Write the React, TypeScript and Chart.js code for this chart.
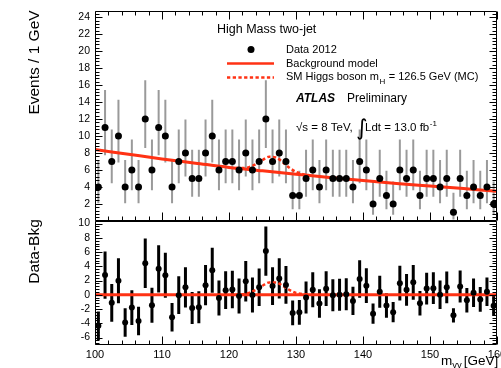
import React, { useEffect, useRef } from "react";
import { Chart, registerables } from "chart.js";

Chart.register(...registerables);

// Diphoton invariant mass bins (1 GeV wide), bin centres in GeV
const binCentres = [
  100.5, 101.5, 102.5, 103.5, 104.5, 105.5, 106.5, 107.5, 108.5, 109.5,
  110.5, 111.5, 112.5, 113.5, 114.5, 115.5, 116.5, 117.5, 118.5, 119.5,
  120.5, 121.5, 122.5, 123.5, 124.5, 125.5, 126.5, 127.5, 128.5, 129.5,
  130.5, 131.5, 132.5, 133.5, 134.5, 135.5, 136.5, 137.5, 138.5, 139.5,
  140.5, 141.5, 142.5, 143.5, 144.5, 145.5, 146.5, 147.5, 148.5, 149.5,
  150.5, 151.5, 152.5, 153.5, 154.5, 155.5, 156.5, 157.5, 158.5, 159.5,
];

// Observed events per bin, Data 2012
const eventCounts = [
  4, 11, 7, 10, 4, 6, 4, 12, 6, 11,
  10, 4, 7, 8, 5, 5, 8, 10, 6, 7,
  7, 6, 8, 6, 7, 12, 7, 8, 7, 3,
  3, 5, 6, 4, 6, 5, 5, 5, 4, 7,
  6, 2, 5, 3, 2, 6, 5, 6, 3, 5,
  5, 4, 5, 1, 5, 3, 4, 3, 4, 2,
];

// Background model, sampled every 5 GeV
const bkgMass = [100, 105, 110, 115, 120, 125, 130, 135, 140, 145, 150, 155, 160];
const bkgEvents = [8.4, 7.85, 7.3, 6.8, 6.3, 5.9, 5.5, 5.1, 4.75, 4.4, 4.1, 3.8, 3.5];

// SM Higgs boson expectation, mH = 126.5 GeV
const higgsMass = [121, 122, 123, 124, 125, 126, 127, 128, 129, 130, 131, 132];
const higgsExcess = [0.02, 0.08, 0.27, 0.69, 1.27, 1.73, 1.73, 1.27, 0.69, 0.27, 0.08, 0.02];
const higgsPlusBkg = [6.24, 6.22, 6.33, 6.67, 7.17, 7.55, 7.47, 6.93, 6.27, 5.77, 5.51, 5.38];

// 68% CL Poisson interval bounds, indexed by observed count
const poissonLow = [0, 0.173, 0.708, 1.367, 2.086, 2.84, 3.62, 4.419, 5.232, 6.057, 6.891, 7.734, 8.585];
const poissonHigh = [1.841, 3.3, 4.638, 5.918, 7.163, 8.382, 9.584, 10.77, 11.95, 13.11, 14.27, 15.42, 16.56];

// Axis tick labels
const massTicks = [100, 110, 120, 130, 140, 150, 160];
const eventTicks = [2, 4, 6, 8, 10, 12, 14, 16, 18, 20, 22, 24];
const residualTicks = [-6, -4, -2, 0, 2, 4, 6, 8, 10];

const RED = "#ff3214";
const SANS = '"Liberation Sans", Arial, Helvetica, sans-serif';
const font = (size: number, style = "") => `${style} ${size}px ${SANS}`.trim();

function bkgAt(m: number): number {
  for (let i = 0; i < bkgMass.length - 1; i++) {
    if (m >= bkgMass[i] && m <= bkgMass[i + 1]) {
      const t = (m - bkgMass[i]) / (bkgMass[i + 1] - bkgMass[i]);
      return bkgEvents[i] + t * (bkgEvents[i + 1] - bkgEvents[i]);
    }
  }
  return bkgEvents[bkgEvents.length - 1];
}

const residuals = eventCounts.map((n, i) => n - bkgAt(binCentres[i]));

// Frame and ROOT-style inward ticks on both panels
const framePlugin = {
  id: "frameTicks",
  afterDatasetsDraw(chart: any) {
    const { ctx, chartArea } = chart;
    const xs = chart.scales.x;
    const panels = [chart.scales.yTop, chart.scales.yBot];
    const L = Math.round(chartArea.left) + 0.5;
    const R = Math.round(chartArea.right) - 0.5;
    ctx.save();
    ctx.strokeStyle = "#000";
    ctx.lineWidth = 1;
    panels.forEach((ys: any, pi: number) => {
      const T = Math.round(ys.top) + 0.5;
      const B = Math.round(ys.bottom) - 0.5;
      ctx.beginPath();
      ctx.rect(L, T, R - L, B - T);
      // y ticks every 0.4, major every 2
      const kMin = Math.ceil(ys.min / 0.4 - 1e-6);
      const kMax = Math.floor(ys.max / 0.4 + 1e-6);
      for (let k = kMin; k <= kMax; k++) {
        const v = k * 0.4;
        const py = Math.round(ys.getPixelForValue(v)) + 0.5;
        const len = k % 5 === 0 ? 7 : 4;
        ctx.moveTo(L, py);
        ctx.lineTo(L + len, py);
        ctx.moveTo(R, py);
        ctx.lineTo(R - len, py);
      }
      // x ticks every 2 GeV, major every 10
      for (let m = 100; m <= 160; m += 2) {
        const px = Math.round(xs.getPixelForValue(m)) + 0.5;
        const len = m % 10 === 0 ? 8 : 4;
        ctx.moveTo(px, B);
        ctx.lineTo(px, B - len);
        if (pi === 0) {
          ctx.moveTo(px, T);
          ctx.lineTo(px, T + len);
        }
      }
      ctx.stroke();
    });
    ctx.restore();
  },
};

// Titles, legend and annotations
const textPlugin = {
  id: "annotations",
  afterDraw(chart: any) {
    const { ctx } = chart;
    ctx.save();
    ctx.fillStyle = "#000";
    ctx.textAlign = "left";
    ctx.textBaseline = "alphabetic";

    ctx.font = font(12.5);
    ctx.fillText("High Mass two-jet", 217, 32.5);

    // legend
    ctx.beginPath();
    ctx.arc(251, 49.5, 3.5, 0, Math.PI * 2);
    ctx.fill();
    ctx.strokeStyle = RED;
    ctx.lineWidth = 2.5;
    ctx.beginPath();
    ctx.moveTo(227, 63.5);
    ctx.lineTo(274, 63.5);
    ctx.stroke();
    ctx.setLineDash([3.3, 2.4]);
    ctx.beginPath();
    ctx.moveTo(227, 77.5);
    ctx.lineTo(274, 77.5);
    ctx.stroke();
    ctx.setLineDash([]);

    ctx.font = font(11);
    ctx.fillText("Data 2012", 286, 53);
    ctx.fillText("Background model", 286, 66.5);
    let x = 286;
    const s1 = "SM Higgs boson m";
    ctx.fillText(s1, x, 80);
    x += ctx.measureText(s1).width;
    ctx.font = font(8);
    ctx.fillText("H", x + 0.5, 83.5);
    x += ctx.measureText("H").width + 1;
    ctx.font = font(11);
    ctx.fillText(" = 126.5 GeV (MC)", x, 80);

    ctx.font = font(12, "italic bold");
    ctx.fillText("ATLAS", 296, 101.5);
    ctx.font = font(12);
    ctx.fillText("Preliminary", 347, 101.5);

    ctx.font = font(11.5);
    ctx.fillText("\u221As = 8 TeV,", 296, 131);
    ctx.font = `22px "DejaVu Sans", ${SANS}`;
    ctx.fillText("\u222B", 356, 135);
    ctx.font = font(11.5);
    const s2 = "Ldt = 13.0 fb";
    ctx.fillText(s2, 365, 131);
    const w2 = ctx.measureText(s2).width;
    ctx.font = font(8);
    ctx.fillText("-1", 365 + w2 + 0.5, 126);

    // x-axis title
    ctx.font = font(13.5);
    ctx.fillText("m", 441, 365);
    const wm = ctx.measureText("m").width;
    ctx.font = font(9.5);
    ctx.fillText("\u03B3\u03B3", 441 + wm, 368);
    const wg = ctx.measureText("\u03B3\u03B3").width;
    ctx.font = font(13.5);
    ctx.fillText("[GeV]", 441 + wm + wg + 2, 365);

    // y-axis titles
    ctx.font = font(15.5);
    ctx.textAlign = "center";
    ctx.save();
    ctx.translate(39, 62.5);
    ctx.rotate(-Math.PI / 2);
    ctx.fillText("Events / 1 GeV", 0, 0);
    ctx.restore();
    ctx.save();
    ctx.translate(38.5, 251.5);
    ctx.rotate(-Math.PI / 2);
    ctx.fillText("Data-Bkg", 0, 0);
    ctx.restore();

    ctx.restore();
  },
};

const fixedTicks = (values: number[]) => (scale: any) => {
  scale.ticks = values.map((v) => ({ value: v }));
};

export default function App() {
  const canvasRef = useRef<HTMLCanvasElement | null>(null);

  useEffect(() => {
    const canvas = canvasRef.current;
    if (!canvas) return;

    const chart = new Chart(canvas, {
      type: "scatter",
      data: {
        datasets: [
          // upper panel
          {
            type: "scatter",
            label: "Data 2012",
            xAxisID: "x",
            yAxisID: "yTop",
            data: binCentres.map((m, i) => ({ x: m, y: eventCounts[i] })),
            pointRadius: 3.5,
            pointBackgroundColor: "#000",
            pointBorderWidth: 0,
            showLine: false,
            order: 0,
          },
          {
            type: "line",
            label: "Background model",
            xAxisID: "x",
            yAxisID: "yTop",
            data: bkgMass.map((m, i) => ({ x: m, y: bkgEvents[i] })),
            borderColor: RED,
            borderWidth: 3,
            pointRadius: 0,
            fill: false,
            cubicInterpolationMode: "monotone",
            order: 1,
          },
          {
            type: "line",
            label: "SM Higgs boson",
            xAxisID: "x",
            yAxisID: "yTop",
            data: higgsMass.map((m, i) => ({ x: m, y: higgsPlusBkg[i] })),
            borderColor: RED,
            borderWidth: 2.5,
            borderDash: [3.3, 2.4],
            pointRadius: 0,
            fill: false,
            cubicInterpolationMode: "monotone",
            order: 2,
          },
          {
            type: "bar",
            label: "stat",
            xAxisID: "x",
            yAxisID: "yTop",
            data: binCentres.map((m, i) => ({
              x: m,
              y: [poissonLow[eventCounts[i]], poissonHigh[eventCounts[i]]],
            })),
            backgroundColor: "#9a9a9a",
            maxBarThickness: 2,
            inflateAmount: 0,
            grouped: false,
            borderWidth: 0,
            order: 3,
          },
          // lower panel
          {
            type: "scatter",
            label: "Data-Bkg",
            xAxisID: "x",
            yAxisID: "yBot",
            data: binCentres.map((m, i) => ({ x: m, y: residuals[i] })),
            pointRadius: 3,
            pointBackgroundColor: "#000",
            pointBorderWidth: 0,
            showLine: false,
            order: 0,
          },
          {
            type: "line",
            label: "zero",
            xAxisID: "x",
            yAxisID: "yBot",
            data: [
              { x: 100, y: 0 },
              { x: 160, y: 0 },
            ],
            borderColor: RED,
            borderWidth: 3,
            pointRadius: 0,
            fill: false,
            order: 1,
          },
          {
            type: "line",
            label: "Higgs excess",
            xAxisID: "x",
            yAxisID: "yBot",
            data: higgsMass.map((m, i) => ({ x: m, y: higgsExcess[i] })),
            borderColor: RED,
            borderWidth: 2.5,
            borderDash: [3.3, 2.4],
            pointRadius: 0,
            fill: false,
            cubicInterpolationMode: "monotone",
            order: 2,
          },
          {
            type: "bar",
            label: "stat residual",
            xAxisID: "x",
            yAxisID: "yBot",
            data: binCentres.map((m, i) => {
              const e = Math.sqrt(eventCounts[i]);
              return { x: m, y: [residuals[i] - e, residuals[i] + e] };
            }),
            backgroundColor: "#000",
            maxBarThickness: 3,
            inflateAmount: 0,
            grouped: false,
            borderWidth: 0,
            order: 3,
          },
        ] as any,
      },
      options: {
        responsive: false,
        animation: false,
        devicePixelRatio: 1,
        events: [],
        layout: { padding: { top: 9, left: 0, right: 2, bottom: 0 } },
        plugins: {
          legend: { display: false },
          tooltip: { enabled: false },
        },
        scales: {
          x: {
            type: "linear",
            position: "bottom",
            min: 100,
            max: 160,
            offset: false,
            grid: { display: false, drawTicks: false },
            border: { display: false },
            afterBuildTicks: fixedTicks(massTicks),
            afterFit: (scale: any) => {
              scale.height = 23;
              scale.paddingLeft = 0;
              scale.paddingRight = 0;
            },
            ticks: {
              color: "#000",
              font: { size: 11, family: SANS },
              padding: 3,
              maxRotation: 0,
              autoSkip: false,
            },
          },
          yTop: {
            type: "linear",
            position: "left",
            stack: "panels",
            stackWeight: 211,
            weight: 2,
            min: 0,
            max: 24.7,
            grid: { display: false, drawTicks: false },
            border: { display: false },
            afterBuildTicks: fixedTicks(eventTicks),
            afterFit: (scale: any) => {
              scale.width = 95;
            },
            ticks: {
              color: "#000",
              font: { size: 10.5, family: SANS },
              padding: 5,
              autoSkip: false,
            },
          },
          yBot: {
            type: "linear",
            position: "left",
            stack: "panels",
            stackWeight: 125,
            weight: 1,
            min: -7.05,
            max: 10.38,
            grid: { display: false, drawTicks: false },
            border: { display: false },
            afterBuildTicks: fixedTicks(residualTicks),
            afterFit: (scale: any) => {
              scale.width = 95;
            },
            ticks: {
              color: "#000",
              font: { size: 10.5, family: SANS },
              padding: 5,
              autoSkip: false,
            },
          },
        },
      } as any,
      plugins: [framePlugin, textPlugin],
    });

    return () => chart.destroy();
  }, []);

  return (
    <div style={{ position: "fixed", left: 0, top: 0, width: 501, height: 368, background: "#fff" }}>
      <canvas ref={canvasRef} width={501} height={368} style={{ display: "block" }} />
    </div>
  );
}
